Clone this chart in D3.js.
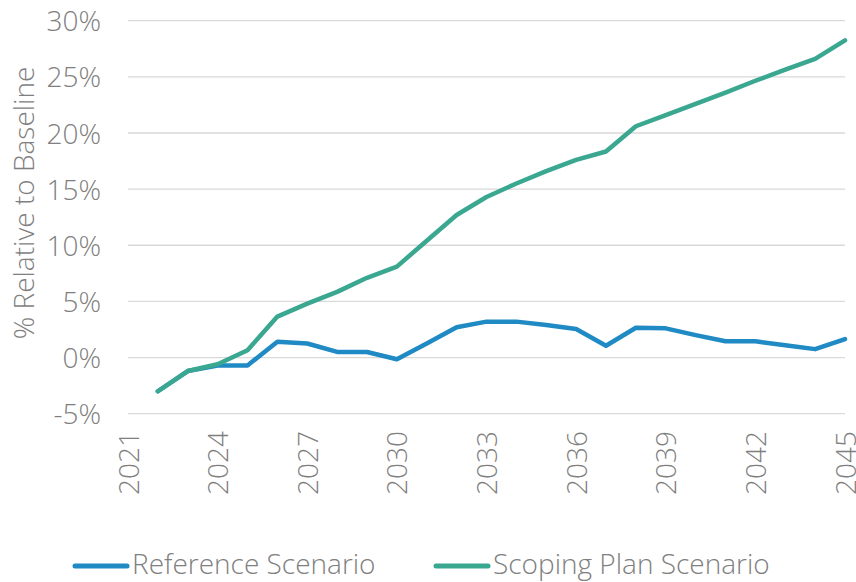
<!DOCTYPE html>
<html>
<head>
<meta charset="utf-8">
<script src="https://cdn.jsdelivr.net/npm/d3@7"></script>
<style>
  html, body { margin: 0; padding: 0; background: #fff; }
  svg text { font-family: "Open Sans", Lato, sans-serif; font-weight: 300; fill: #7f7f7f; }
</style>
</head>
<body>
<svg id="chart" width="856" height="582"></svg>
<script>
// Years with data, and the two scenario series (% relative to baseline)
const years = [2022, 2023, 2024, 2025, 2026, 2027, 2028, 2029, 2030, 2031, 2032, 2033,
               2034, 2035, 2036, 2037, 2038, 2039, 2040, 2041, 2042, 2043, 2044, 2045];
const referenceScenario = [-3.0, -1.2, -0.7, -0.7, 1.4, 1.25, 0.5, 0.5, -0.15, 1.25, 2.7, 3.2,
                           3.2, 2.9, 2.55, 1.05, 2.65, 2.6, 2.0, 1.45, 1.45, 1.1, 0.75, 1.65];
const scopingPlanScenario = [-3.0, -1.2, -0.6, 0.65, 3.65, 4.8, 5.85, 7.1, 8.1, 10.4, 12.7, 14.3,
                             15.5, 16.6, 17.6, 18.35, 20.6, 21.6, 22.6, 23.6, 24.65, 25.65, 26.6, 28.25];
const yTicks = [-5, 0, 5, 10, 15, 20, 25, 30];
const xTicks = [2021, 2024, 2027, 2030, 2033, 2036, 2039, 2042, 2045];
const seriesNames = ["Reference Scenario", "Scoping Plan Scenario"];
const seriesColors = ["#1f8ac3", "#3aa791"];

const fontSize = 28;
const svg = d3.select("#chart");
const x = d3.scaleLinear().domain([2021, 2045]).range([128, 845]);
const y = d3.scaleLinear().domain([-5, 30]).range([413.7, 20.7]);

// Horizontal gridlines
svg.append("g")
  .selectAll("line")
  .data(yTicks)
  .join("line")
  .attr("x1", x(2021)).attr("x2", x(2045))
  .attr("y1", d => y(d)).attr("y2", d => y(d))
  .attr("stroke", "#d9d9d9").attr("stroke-width", 1.3);

// Y axis labels
const yAxis = d3.axisLeft(y).tickValues(yTicks).tickFormat(d => d + "%").tickSize(0).tickPadding(0);
const gy = svg.append("g").attr("transform", "translate(101,0)").call(yAxis);
gy.select(".domain").remove();
gy.selectAll("text")
  .attr("font-size", fontSize).attr("dy", "0.36em")
  .style("font-family", "'Open Sans', sans-serif").style("font-weight", 300).attr("fill", "#7f7f7f");

// X axis labels, rotated
const xAxis = d3.axisBottom(x).tickValues(xTicks).tickFormat(d3.format("d")).tickSize(0);
const gx = svg.append("g").attr("transform", "translate(0,431)").call(xAxis);
gx.select(".domain").remove();
gx.selectAll("text")
  .attr("font-size", fontSize)
  .attr("transform", "rotate(-90)")
  .attr("text-anchor", "end")
  .attr("x", 0).attr("y", 0).attr("dy", "0.36em")
  .style("font-family", "'Open Sans', sans-serif").style("font-weight", 300).attr("fill", "#7f7f7f");

// Y axis title
svg.append("text")
  .attr("transform", "translate(34,203) rotate(-90)")
  .attr("text-anchor", "middle")
  .attr("font-size", fontSize)
  .text("% Relative to Baseline");

// Series lines
const line = d3.line().x((d, i) => x(years[i])).y(d => y(d));
[referenceScenario, scopingPlanScenario].forEach((vals, i) => {
  svg.append("path")
    .datum(vals)
    .attr("d", line)
    .attr("fill", "none")
    .attr("stroke", seriesColors[i])
    .attr("stroke-width", 4.5)
    .attr("stroke-linejoin", "round")
    .attr("stroke-linecap", "round");
});

// Legend
const legendX = [75, 436];
seriesNames.forEach((name, i) => {
  const g = svg.append("g").attr("transform", `translate(${legendX[i]},566)`);
  g.append("line").attr("x1", 0).attr("x2", 52).attr("y1", 0).attr("y2", 0)
    .attr("stroke", seriesColors[i]).attr("stroke-width", 5).attr("stroke-linecap", "round");
  g.append("text").attr("x", 57).attr("y", 7.5)
    .attr("font-size", fontSize).text(name);
});
</script>
</body>
</html>
